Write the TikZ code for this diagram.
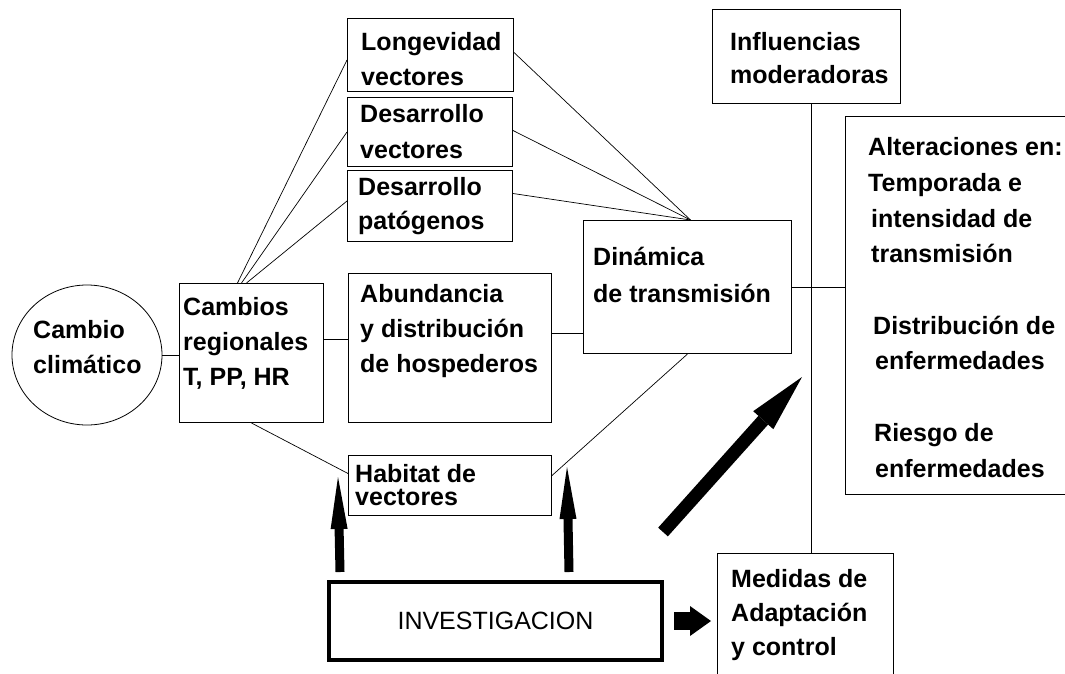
\documentclass[tikz,border=0pt]{standalone}
\usepackage{fontspec}
\setmainfont{Liberation Sans}
\usetikzlibrary{arrows.meta, positioning, calc, shapes.geometric}
\tikzset{
  box/.style={draw, line width=1pt, rectangle, inner sep=0pt, anchor=north west},
  lbl/.style={font=\fontsize{25}{35}\selectfont\bfseries, align=left, anchor=base west, inner sep=0pt},
  link/.style={line width=0.7pt},
  bigup/.style={line width=9pt, -{Triangle[length=52pt,width=17pt,line width=0pt]}}
}

\begin{document}
\begin{tikzpicture}[x=1pt,y=-1pt]
  \useasboundingbox (0,0) rectangle (1065,673);
  \clip (0,0) rectangle (1065,673);

  % boxes
  \node[draw, ellipse, line width=0.8pt, minimum width=150, minimum height=140, inner sep=0pt] (cambio) at (87,355) {};
  \node[box, minimum width=144, minimum height=139] (reg) at (179,283) {};
  \node[box, minimum width=166, minimum height=73] (longv) at (347,18) {};
  \node[box, minimum width=165, minimum height=69] (desv) at (347,97) {};
  \node[box, minimum width=165, minimum height=71] (desp) at (347,170) {};
  \node[box, minimum width=203, minimum height=149] (abun) at (348,273) {};
  \node[box, minimum width=203, minimum height=60] (hab) at (348,455) {};
  \node[box, minimum width=208, minimum height=133] (din) at (583,220) {};
  \node[box, minimum width=188, minimum height=94] (infl) at (712,9) {};
  \node[box, minimum width=240, minimum height=378] (alt) at (845,116) {};
  \node[box, minimum width=176, minimum height=140] (med) at (717,553) {};
  \node[box, line width=4pt, minimum width=333, minimum height=78,
        font=\fontsize{25}{30}\selectfont] (inv) at (327,580) {INVESTIGACION};

  % labels (anchored on the baseline of the last line)
  \node[lbl] (cambiot) at ([shift={(-54,18)}]cambio.center) {Cambio\\climático};
  \node[lbl] (regt) at ([shift={(4,102)}]reg.north west) {Cambios\\regionales\\T, PP, HR};
  \node[lbl] (longt) at ([shift={(14,67)}]longv.north west) {Longevidad\\vectores};
  \node[lbl, font=\fontsize{25}{36}\selectfont\bfseries] (desvt) at ([shift={(13,61)}]desv.north west) {Desarrollo\\vectores};
  \node[lbl, font=\fontsize{25}{34}\selectfont\bfseries] (despt) at ([shift={(11,59)}]desp.north west) {Desarrollo\\patógenos};
  \node[lbl] (abunt) at ([shift={(12,99)}]abun.north west) {Abundancia\\y distribución\\de hospederos};
  \node[lbl, font=\fontsize{25}{23}\selectfont\bfseries] (habt) at ([shift={(7,50)}]hab.north west) {Habitat de\\vectores};
  \node[lbl, font=\fontsize{25}{37}\selectfont\bfseries] (dint) at ([shift={(10,82)}]din.north west) {Dinámica\\de transmisión};
  \node[lbl, font=\fontsize{25}{33}\selectfont\bfseries] (inflt) at ([shift={(18,74)}]infl.north west) {Influencias\\moderadoras};
  \node[lbl, font=\fontsize{25}{35.7}\selectfont\bfseries] (altt) at ([shift={(23,361)}]alt.north west)
    {Alteraciones en:\\Temporada e\\\hspace*{3pt}intensidad de\\\hspace*{3pt}transmisión\\[35.7pt]
     \hspace*{5pt}Distribución de\\\hspace*{7pt}enfermedades\\[35.7pt]
     \hspace*{6pt}Riesgo de\\\hspace*{7pt}enfermedades};
  \node[lbl, font=\fontsize{25}{34}\selectfont\bfseries] (medt) at ([shift={(14,102)}]med.north west) {Medidas de\\Adaptación\\y control};

  % thin connectors
  \draw[link] (cambio.east) -- (cambio.east -| reg.west);
  \draw[link] ([shift={(0,-13.5)}]reg.east) -- ([shift={(0,-8.5)}]abun.west);
  \draw[link] ([shift={(0,-14.5)}]abun.east) -- ([shift={(0,-14.5)}]abun.east -| din.west);
  \draw[link] (din.east) -- (din.east -| alt.west);
  \draw[link] ([shift={(5,0)}]infl.south) -- ([shift={(5,0)}]infl.south |- med.north);
  \foreach \b/\dx/\dy in {longv/-14/5, desv/-10/0, desp/-5/-5}
    \draw[link] ([shift={(\dx,0)}]reg.north) -- ([shift={(0,\dy)}]\b.west);
  \foreach \b/\dy in {longv/-2.5, desv/-1.5, desp/-12.5}
    \draw[link] ([shift={(0,\dy)}]\b.east) -- ([shift={(3,0)}]din.north);
  \draw[link] (reg.south) -- ([shift={(0,-12)}]hab.west);
  \draw[link] (din.south) -- ([shift={(0,-10)}]hab.east);

  % thick arrows
  \coordinate (tipl) at (338,477);
  \coordinate (tipr) at (567,467);
  \coordinate (dtail) at (663,532);
  \coordinate (dtip) at (802,377);
  \draw[bigup] ([shift={(-155.5,-8)}]inv.north) -- (tipl);
  \draw[bigup] ([shift={(73.5,-8)}]inv.north) -- (tipr);
  \draw[line width=18pt, -{Triangle[length=21pt,width=30pt,line width=0pt]}]
    ([shift={(10,0)}]inv.east) -- ([shift={(-6,0)}]inv.east -| med.west);
  \draw[line width=13pt, -{Triangle[length=58pt,width=27pt,line width=0pt]}] (dtail) -- (dtip);
\end{tikzpicture}
\end{document}
